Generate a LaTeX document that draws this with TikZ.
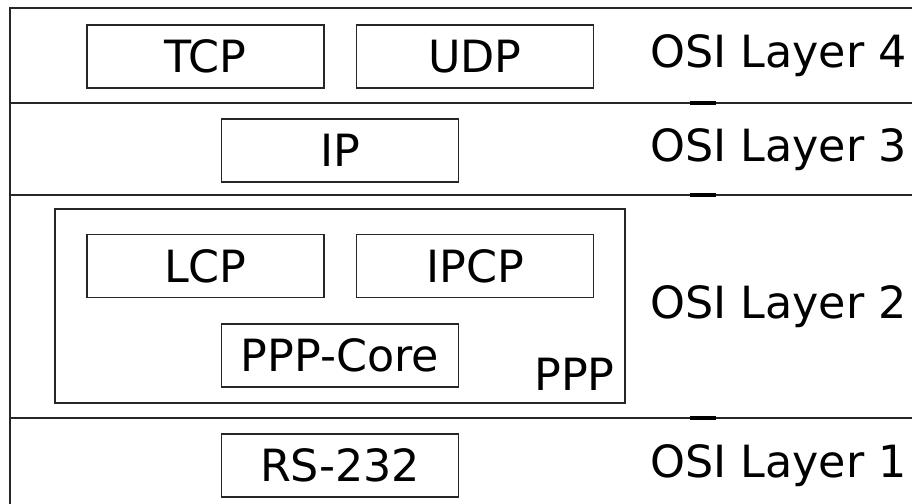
\documentclass[tikz,border=0pt]{standalone}
\usepackage{fontspec}
\setmainfont{DejaVu Sans}
\begin{document}
\begin{tikzpicture}[x=0.5pt,y=-0.5pt,
  rule/.style={line width=0.6pt,draw=black!85},
  seam/.style={line width=1.6pt,draw=black},
  proto/.style={draw=black!85,line width=0.6pt,minimum width=118.5pt,minimum height=31.5pt,inner sep=0pt,font=\fontsize{22.2}{26}\selectfont},
  layername/.style={anchor=west,inner sep=0pt,font=\fontsize{22.2}{26}\selectfont}]
\useasboundingbox (0,0) rectangle (912,504);
% layer frame
\coordinate (tl) at (10,8);
\coordinate (tr) at (912,8);
\coordinate (bl) at (10,504);
\coordinate (l43a) at (10,103);  \coordinate (l43b) at (912,103);
\coordinate (l32a) at (10,195);  \coordinate (l32b) at (912,195);
\coordinate (l21a) at (10,418);  \coordinate (l21b) at (912,418);
\draw[rule] (bl) -- (tl) -- (tr);
\draw[rule] (l43a) -- (l43b);
\draw[rule] (l32a) -- (l32b);
\draw[rule] (l21a) -- (l21b);
% short seams where the layer blocks meet
\coordinate (s1a) at (690,103); \coordinate (s1b) at (716,103);
\coordinate (s2a) at (690,195); \coordinate (s2b) at (716,195);
\coordinate (s3a) at (690,418); \coordinate (s3b) at (716,418);
\draw[seam] (s1a) -- (s1b);
\draw[seam] (s2a) -- (s2b);
\draw[seam] (s3a) -- (s3b);
% PPP container
\node[draw=black!85,line width=0.6pt,minimum width=285pt,minimum height=97pt,inner sep=0pt] (ppp) at (340,306) {};
\node[anchor=base east,inner sep=0pt,font=\fontsize{22.2}{26}\selectfont] (ppplabel) at (615,390) {PPP};
% protocol boxes
\node[proto] (tcp) at (205.5,56.5) {TCP};
\node[proto] (udp) at (475,56.5) {UDP};
\node[proto] (ip) at (340,150.5) {IP};
\node[proto] (lcp) at (205.5,266) {LCP};
\node[proto] (ipcp) at (475,266) {IPCP};
\node[proto] (core) at (340,355.5) {PPP-Core};
\node[proto] (rs) at (340,465.5) {RS-232};
% layer names
\node[layername] (osi4) at (650,56) {OSI Layer 4};
\node[layername] (osi3) at (650,150) {OSI Layer 3};
\node[layername] (osi2) at (650,307) {OSI Layer 2};
\node[layername] (osi1) at (650,465.5) {OSI Layer 1};
\end{tikzpicture}
\end{document}
